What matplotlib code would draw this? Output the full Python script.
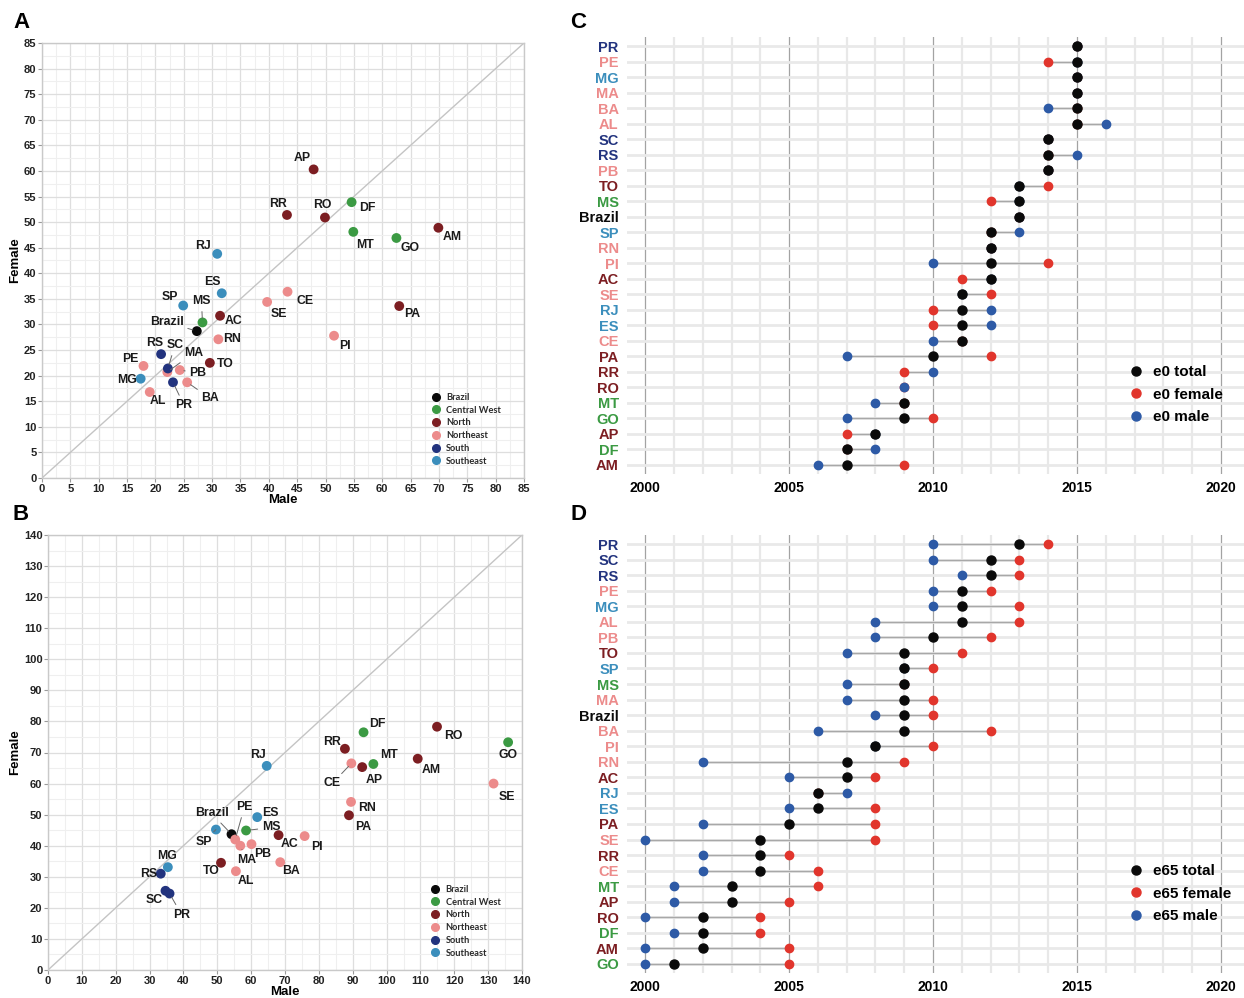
import numpy as np
import matplotlib
matplotlib.use("Agg")
import matplotlib.pyplot as plt
from matplotlib.lines import Line2D

plt.rcParams["font.family"] = ["Liberation Sans", "DejaVu Sans"]

# ---- data ----
states = ["Brazil", "AC", "AL", "AP", "AM", "BA", "CE", "DF", "ES", "GO", "MA", "MT", "MS", "MG",
          "PA", "PB", "PR", "PE", "PI", "RJ", "RN", "RS", "RO", "RR", "SC", "SP", "SE", "TO"]

region_of = {
    "Brazil": "Brazil",
    "DF": "Central West", "GO": "Central West", "MT": "Central West", "MS": "Central West",
    "AC": "North", "AP": "North", "AM": "North", "PA": "North", "RO": "North", "RR": "North", "TO": "North",
    "AL": "Northeast", "BA": "Northeast", "CE": "Northeast", "MA": "Northeast", "PB": "Northeast",
    "PE": "Northeast", "PI": "Northeast", "RN": "Northeast", "SE": "Northeast",
    "PR": "South", "RS": "South", "SC": "South",
    "ES": "Southeast", "MG": "Southeast", "RJ": "Southeast", "SP": "Southeast",
}

# panel A: e0 (male, female)
e0_male = [27.3, 31.4, 19.0, 47.9, 69.9, 25.6, 43.3, 54.6, 31.7, 62.5, 22.1, 54.9, 28.3, 17.4,
           63.0, 24.3, 23.1, 17.9, 51.5, 30.9, 31.1, 21.0, 49.9, 43.2, 22.2, 24.9, 39.7, 29.6]
e0_female = [28.7, 31.7, 16.8, 60.3, 48.9, 18.7, 36.4, 53.9, 36.1, 46.9, 20.7, 48.1, 30.4, 19.4,
             33.6, 21.1, 18.7, 21.9, 27.8, 43.8, 27.1, 24.2, 50.9, 51.4, 21.4, 33.7, 34.4, 22.5]

# panel B: e65 (male, female)
e65_male = [54.2, 68.1, 55.5, 92.8, 109.2, 68.6, 89.6, 93.2, 61.8, 135.9, 56.8, 96.1, 58.5, 35.4,
            88.9, 60.1, 35.9, 55.3, 75.8, 64.6, 89.5, 33.3, 114.9, 87.7, 34.7, 49.6, 131.6, 51.1]
e65_female = [43.7, 43.4, 31.8, 65.3, 68.0, 34.7, 66.5, 76.5, 49.2, 73.3, 40.0, 66.3, 44.9, 33.1,
              49.8, 40.5, 24.6, 42.0, 43.1, 65.7, 54.1, 31.0, 78.3, 71.2, 25.5, 45.2, 60.0, 34.5]

# panel C: year e0 (rows top to bottom)
c_states = ["PR", "PE", "MG", "MA", "BA", "AL", "SC", "RS", "PB", "TO", "MS", "Brazil", "SP", "RN",
            "PI", "AC", "SE", "RJ", "ES", "CE", "PA", "RR", "RO", "MT", "GO", "AP", "DF", "AM"]
c_total = [2015, 2015, 2015, 2015, 2015, 2015, 2014, 2014, 2014, 2013, 2013, 2013, 2012, 2012,
           2012, 2012, 2011, 2011, 2011, 2011, 2010, np.nan, np.nan, 2009, 2009, 2008, 2007, 2007]
c_female = [2015, 2014, 2015, 2015, 2015, 2015, 2014, 2014, 2014, 2014, 2012, 2013, 2012, 2012,
            2014, 2011, 2012, 2010, 2010, 2011, 2012, 2009, 2009, 2009, 2010, 2007, 2007, 2009]
c_male = [2015, 2015, 2015, 2015, 2014, 2016, 2014, 2015, 2014, 2013, 2013, 2013, 2013, 2012,
          2010, 2012, 2011, 2012, 2012, 2010, 2007, 2010, 2009, 2008, 2007, 2008, 2008, 2006]

# panel D: year e65 (rows top to bottom)
d_states = ["PR", "SC", "RS", "PE", "MG", "AL", "PB", "TO", "SP", "MS", "MA", "Brazil", "BA", "PI",
            "RN", "AC", "RJ", "ES", "PA", "SE", "RR", "CE", "MT", "AP", "RO", "DF", "AM", "GO"]
d_total = [2013, 2012, 2012, 2011, 2011, 2011, 2010, 2009, 2009, 2009, 2009, 2009, 2009, 2008,
           2007, 2007, 2006, 2006, 2005, 2004, 2004, 2004, 2003, 2003, 2002, 2002, 2002, 2001]
d_female = [2014, 2013, 2013, 2012, 2013, 2013, 2012, 2011, 2010, 2009, 2010, 2010, 2012, 2010,
            2009, 2008, 2006, 2008, 2008, 2008, 2005, 2006, 2006, 2005, 2004, 2004, 2005, 2005]
d_male = [2010, 2010, 2011, 2010, 2010, 2008, 2008, 2007, 2009, 2007, 2007, 2008, 2006, 2008,
          2002, 2005, 2007, 2005, 2002, 2000, 2002, 2002, 2001, 2001, 2000, 2001, 2000, 2000]

regions = ["Brazil", "Central West", "North", "Northeast", "South", "Southeast"]

# ---- styling ----
region_colors = {
    "Brazil": "#0a0a0a",
    "Central West": "#3b9a43",
    "North": "#7c1e22",
    "Northeast": "#ec8b8b",
    "South": "#22337e",
    "Southeast": "#3b8ebc",
}
col_total = "#0a0a0a"
col_female = "#e1352c"
col_male = "#2d5aa6"

# label offsets (pixels) and whether a leader line is drawn
offsets_a = {
    "AP": (-11, 11, 0), "RR": (-9, 11, 0), "RO": (-3, 13, 0), "DF": (16, -6, 0), "MT": (12, -13, 0),
    "GO": (14, -10, 0), "AM": (14, -9, 0), "RJ": (-14, 8, 0), "ES": (-9, 11, 0), "SP": (-13, 9, 0),
    "MS": (-1, 21, 1), "Brazil": (-30, 9, 1), "AC": (14, -5, 0), "CE": (18, -9, 0), "SE": (12, -12, 0),
    "PA": (13, -8, 0), "PI": (11, -10, 0), "RN": (14, 0, 0), "RS": (-6, 11, 0), "SC": (7, 23, 1),
    "MA": (26, 19, 1), "PB": (18, -3, 1), "TO": (15, -1, 0), "PE": (-13, 7, 0), "MG": (-14, -1, 0),
    "PR": (11, -23, 1), "BA": (23, -16, 1), "AL": (8, -9, 0),
}
offsets_b = {
    "DF": (14, 8, 0), "RR": (-13, 7, 0), "RO": (16, -9, 0), "GO": (0, -13, 0), "MT": (16, 9, 0),
    "AM": (14, -11, 0), "CE": (-19, -20, 1), "AP": (12, -13, 1), "SE": (13, -13, 0), "RN": (16, -6, 0),
    "PA": (14, -12, 0), "RJ": (-9, 11, 0), "ES": (13, 4, 0), "SP": (-12, -12, 1), "Brazil": (-20, 21, 1),
    "PE": (9, 32, 1), "MS": (25, 3, 1), "AC": (11, -9, 0), "PI": (12, -11, 0), "MA": (6, -14, 1),
    "PB": (11, -10, 0), "TO": (-10, -8, 0), "AL": (10, -10, 0), "BA": (11, -9, 0), "MG": (-1, 11, 0),
    "RS": (-12, 0, 0), "SC": (-11, -9, 0), "PR": (12, -21, 1),
}

W, H = 1244, 998
fig = plt.figure(figsize=(W / 100, H / 100), dpi=100)
fig.patch.set_facecolor("white")


def px_axes(left, top, right, bottom):
    return fig.add_axes([left / W, 1 - bottom / H, (right - left) / W, (bottom - top) / H])


def scatter_panel(ax, male, female, lim, major, minor, offsets):
    ax.set_xlim(0, lim)
    ax.set_ylim(0, lim)
    ax.set_xticks(np.arange(0, lim + 1, major))
    ax.set_yticks(np.arange(0, lim + 1, major))
    ax.set_xticks(np.arange(0, lim + 1, minor), minor=True)
    ax.set_yticks(np.arange(0, lim + 1, minor), minor=True)
    ax.grid(which="major", color="#dedede", lw=0.9, zorder=0)
    ax.grid(which="minor", color="#efefef", lw=0.8, zorder=0)
    ax.set_axisbelow(True)
    for s in ax.spines.values():
        s.set_color("#c9c9c9")
        s.set_linewidth(1.0)
    ax.tick_params(which="major", length=3, color="#9a9a9a", pad=1, labelsize=8)
    ax.tick_params(which="minor", length=0)
    for lab in ax.get_xticklabels() + ax.get_yticklabels():
        lab.set_fontweight("bold")
        lab.set_color("#222222")
    ax.plot([0, lim], [0, lim], color="#c4c4c4", lw=1.0, zorder=1)
    for reg in regions:
        idx = [i for i, s in enumerate(states) if region_of[s] == reg]
        ax.scatter([male[i] for i in idx], [female[i] for i in idx], s=50,
                   color=region_colors[reg], edgecolors="none", zorder=3)
    for i, s in enumerate(states):
        dx, dy, lead = offsets[s]
        ax.annotate(s, (male[i], female[i]), xytext=(dx, dy), textcoords="offset pixels",
                    ha="center", va="center", fontsize=8.8, fontweight="bold", color="#1a1a1a",
                    arrowprops=dict(arrowstyle="-", color="#666666", lw=0.7, shrinkA=1, shrinkB=3)
                    if lead else None, zorder=4)
    ax.set_xlabel("Male", fontsize=9.5, fontweight="bold", labelpad=0)
    ax.set_ylabel("Female", fontsize=9.5, fontweight="bold", labelpad=2)
    handles = [Line2D([], [], ls="", marker="o", ms=5.5, color=region_colors[r]) for r in regions]
    leg = ax.legend(handles, regions, loc="lower left", bbox_to_anchor=(0.79, 0.02), frameon=False,
                    handletextpad=0.1, labelspacing=0.4, borderaxespad=0,
                    prop={"family": "Lato", "weight": "bold", "size": 6.7})
    for t in leg.get_texts():
        t.set_color("#2a2a2a")


def dumbbell_panel(ax, names, total, female, male, tag):
    n = len(names)
    y = np.arange(n)
    ax.set_xlim(1999.37, 2020.8)
    ax.set_ylim(n - 0.42, -0.58)
    for yr in range(2000, 2021):
        major = yr % 5 == 0
        ax.axvline(yr, color="#a3a3a3" if major else "#e8e8e8", lw=0.9 if major else 1.6, zorder=0)
    for yi in y:
        ax.axhline(yi, color="#e9e9e9", lw=2.0, zorder=0)
    for yi in y:
        vals = [v for v in (total[yi], female[yi], male[yi]) if not np.isnan(v)]
        ax.plot([min(vals), max(vals)], [yi, yi], color="#a8a8a8", lw=1.0, zorder=1)
    ax.plot(female, y, ls="", marker="o", ms=6.0, color=col_female, zorder=2)
    ax.plot(male, y, ls="", marker="o", ms=6.0, color=col_male, zorder=3)
    ax.plot(total, y, ls="", marker="o", ms=6.5, color=col_total, zorder=4)
    ax.set_yticks(y)
    ax.set_yticklabels(names)
    for lab, s in zip(ax.get_yticklabels(), names):
        lab.set_color(region_colors[region_of[s]])
        lab.set_fontweight("bold")
        lab.set_fontsize(10.5)
    ax.set_xticks([2000, 2005, 2010, 2015, 2020])
    ax.tick_params(axis="y", length=0, pad=6)
    ax.tick_params(axis="x", length=0, pad=5, labelsize=10)
    for lab in ax.get_xticklabels():
        lab.set_fontweight("bold")
    for s in ax.spines.values():
        s.set_visible(False)
    handles = [Line2D([], [], ls="", marker="o", ms=6.5, color=c) for c in (col_total, col_female, col_male)]
    ax.legend(handles, [f"{tag} total", f"{tag} female", f"{tag} male"], loc="lower left",
              bbox_to_anchor=(0.79, 0.1), frameon=False, handletextpad=0.1, labelspacing=0.55,
              borderaxespad=0, prop={"weight": "bold", "size": 11})


ax_a = px_axes(42, 43, 524, 478)
scatter_panel(ax_a, e0_male, e0_female, 85, 5, 2.5, offsets_a)

ax_b = px_axes(48, 535, 522, 970)
scatter_panel(ax_b, e65_male, e65_female, 140, 10, 5, offsets_b)

ax_c = px_axes(627, 37, 1244, 474)
dumbbell_panel(ax_c, c_states, c_total, c_female, c_male, "e0")

ax_d = px_axes(627, 535, 1244, 973)
dumbbell_panel(ax_d, d_states, d_total, d_female, d_male, "e65")

for letter, (x, y) in zip("ABCD", [(13, 22), (13, 515), (570, 22), (570, 515)]):
    fig.text(x / W, 1 - y / H, letter, fontsize=16, fontweight="bold", va="center", ha="left")

fig.savefig("out.png", dpi=100, facecolor="white")
